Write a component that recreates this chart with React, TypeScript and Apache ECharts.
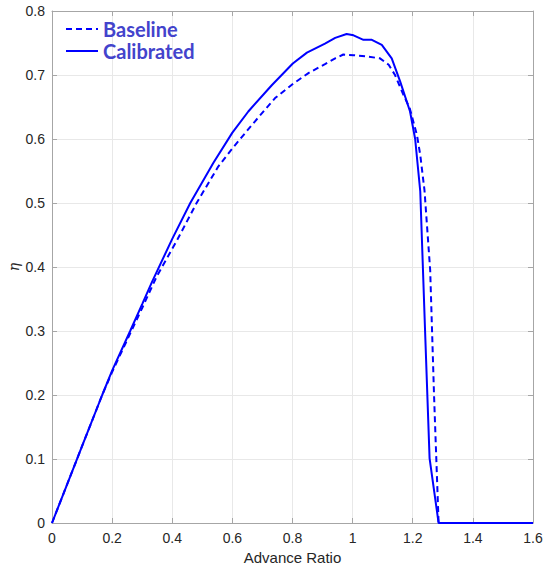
import React, { useEffect, useRef } from "react";
import * as echarts from "echarts";

const baselineData: [number, number][] = [
  [0, 0], [0.1, 0.12], [0.167, 0.2], [0.2, 0.236], [0.264, 0.3], [0.3, 0.336],
  [0.348, 0.385], [0.415, 0.441], [0.481, 0.5], [0.553, 0.557], [0.603, 0.587],
  [0.665, 0.622], [0.742, 0.664], [0.801, 0.686], [0.853, 0.703], [0.908, 0.717],
  [0.942, 0.726], [0.969, 0.732], [1.003, 0.731], [1.047, 0.729], [1.091, 0.726],
  [1.12, 0.716], [1.141, 0.7], [1.169, 0.669], [1.19, 0.648], [1.214, 0.606],
  [1.225, 0.575], [1.239, 0.52], [1.258, 0.395], [1.271, 0.197], [1.286, 0], [1.6, 0],
];

const calibratedData: [number, number][] = [
  [0, 0], [0.05, 0.06], [0.1, 0.12], [0.167, 0.2], [0.2, 0.238], [0.26, 0.3],
  [0.3, 0.342], [0.332, 0.376], [0.4, 0.444], [0.46, 0.5], [0.537, 0.563],
  [0.6, 0.61], [0.653, 0.643], [0.731, 0.684], [0.801, 0.718], [0.848, 0.735],
  [0.908, 0.749], [0.942, 0.758], [0.98, 0.764], [1.003, 0.762], [1.036, 0.755],
  [1.064, 0.755], [1.097, 0.747], [1.13, 0.726], [1.158, 0.69], [1.191, 0.643],
  [1.208, 0.6], [1.225, 0.518], [1.241, 0.3], [1.256, 0.101], [1.286, 0], [1.6, 0],
];

const seriesNames = ["Baseline", "Calibrated"];
const xTickLabels = ["0", "0.2", "0.4", "0.6", "0.8", "1", "1.2", "1.4", "1.6"];
const yTickLabels = ["0", "0.1", "0.2", "0.3", "0.4", "0.5", "0.6", "0.7", "0.8"];

export default function App() {
  const ref = useRef<HTMLDivElement>(null);
  useEffect(() => {
    if (!ref.current) return;
    const chart = echarts.init(ref.current, undefined, { renderer: "svg" });
    const axisColor = "#a6a6a6";
    const labelColor = "#262626";
    const baseX = {
      type: "value" as const,
      min: 0,
      max: 1.6,
      interval: 0.2,
      axisLine: { show: true, onZero: false, lineStyle: { color: axisColor, width: 1 } },
      axisTick: { show: true, inside: true, length: 5, lineStyle: { color: axisColor } },
      splitLine: { show: false },
    };
    const baseY = {
      type: "value" as const,
      min: 0,
      max: 0.8,
      interval: 0.1,
      axisLine: { show: true, onZero: false, lineStyle: { color: axisColor, width: 1 } },
      axisTick: { show: true, inside: true, length: 5, lineStyle: { color: axisColor } },
      splitLine: { show: false },
    };
    chart.setOption({
      animation: false,
      backgroundColor: "#ffffff",
      grid: { left: 52, right: 14, top: 11, bottom: 48, containLabel: false, outerBoundsMode: "none" },
      legend: {
        show: true,
        data: seriesNames,
        orient: "vertical",
        left: 60,
        top: 14,
        itemWidth: 32,
        itemHeight: 14,
        itemGap: 2,
        itemStyle: { opacity: 0 },
        textStyle: {
          color: "#4343cc",
          fontFamily: "Lato",
          fontWeight: "bold",
          fontSize: 20,
          lineHeight: 19,
        },
      },
      xAxis: [
        {
          ...baseX,
          position: "bottom",
          name: "Advance Ratio",
          nameLocation: "middle",
          nameGap: 27,
          nameTextStyle: { color: labelColor, fontFamily: "Liberation Sans", fontSize: 15 },
          axisLabel: {
            show: true,
            color: labelColor,
            fontFamily: "Liberation Sans",
            fontSize: 14,
            margin: 8,
            formatter: (v: number) => xTickLabels[Math.round(v / 0.2)] ?? "",
          },
          splitLine: { show: true, lineStyle: { color: "#e8e8e8", width: 1 } },
        },
        { ...baseX, position: "top", axisLabel: { show: false } },
      ],
      yAxis: [
        {
          ...baseY,
          position: "left",
          name: "η",
          nameLocation: "middle",
          nameGap: 31,
          nameMoveOverlap: false,
          nameTextStyle: {
            color: labelColor,
            fontFamily: "DejaVu Serif",
            fontStyle: "italic",
            fontSize: 14,
          },
          axisLabel: {
            show: true,
            color: labelColor,
            fontFamily: "Liberation Sans",
            fontSize: 14,
            margin: 7,
            formatter: (v: number) => yTickLabels[Math.round(v / 0.1)] ?? "",
          },
          splitLine: { show: true, lineStyle: { color: "#e8e8e8", width: 1 } },
        },
        { ...baseY, position: "right", axisLabel: { show: false } },
      ],
      series: [
        {
          name: seriesNames[0],
          type: "line",
          data: baselineData,
          showSymbol: false,
          symbol: "none",
          lineStyle: { color: "#0000ff", width: 2, type: [6, 4] },
          itemStyle: { color: "#0000ff" },
          z: 3,
        },
        {
          name: seriesNames[1],
          type: "line",
          data: calibratedData,
          showSymbol: false,
          symbol: "none",
          lineStyle: { color: "#0000ff", width: 2, type: "solid" },
          itemStyle: { color: "#0000ff" },
          z: 4,
        },
      ],
    });
    return () => chart.dispose();
  }, []);
  return <div ref={ref} style={{ width: 547, height: 571, position: "absolute", left: 0, top: 0 }} />;
}
